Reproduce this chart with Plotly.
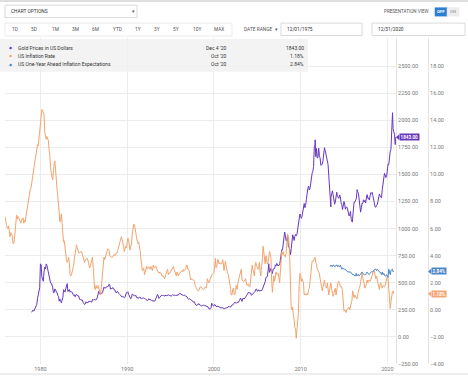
import plotly.graph_objects as go
import pandas as pd

# ---------------- data ----------------
gold_start = "1979-01-01"
gold_monthly = [
    227, 245, 242, 239, 257, 279, 295, 301, 355, 392, 392, 455,   # 1979
    675, 665, 554, 517, 514, 600, 645, 627, 674, 661, 623, 595,   # 1980
    558, 500, 499, 496, 480, 461, 409, 410, 443, 437, 413, 410,   # 1981
    384, 374, 330, 350, 334, 315, 339, 364, 436, 422, 414, 444,   # 1982
    481, 492, 420, 432, 438, 413, 422, 416, 412, 394, 382, 388,   # 1983
    371, 387, 394, 381, 377, 378, 348, 348, 341, 340, 341, 320,   # 1984
    303, 299, 304, 325, 316, 317, 317, 330, 324, 326, 325, 322,   # 1985
    345, 339, 346, 340, 342, 343, 348, 376, 418, 423, 398, 391,   # 1986
    408, 401, 409, 438, 460, 450, 450, 461, 460, 465, 467, 487,   # 1987
    477, 442, 444, 452, 451, 452, 437, 433, 413, 406, 420, 419,   # 1988
    404, 388, 390, 385, 371, 367, 375, 365, 362, 367, 394, 409,   # 1989
    410, 417, 393, 374, 369, 352, 362, 395, 389, 380, 381, 378,   # 1990
    384, 364, 363, 358, 357, 367, 368, 356, 349, 358, 360, 361,   # 1991
    354, 354, 345, 338, 337, 341, 353, 343, 345, 344, 335, 334,   # 1992
    330, 327, 330, 342, 367, 372, 392, 379, 355, 364, 373, 383,   # 1993
    387, 382, 384, 377, 381, 386, 385, 380, 391, 389, 384, 379,   # 1994
    379, 377, 382, 391, 385, 387, 386, 383, 383, 383, 386, 387,   # 1995
    400, 405, 396, 393, 392, 385, 383, 387, 383, 381, 378, 369,   # 1996
    355, 346, 352, 344, 344, 341, 324, 324, 323, 325, 306, 289,   # 1997
    289, 297, 296, 308, 299, 292, 293, 284, 289, 296, 294, 291,   # 1998
    287, 287, 286, 282, 277, 261, 256, 257, 265, 311, 293, 283,   # 1999
    285, 300, 287, 280, 275, 286, 281, 275, 274, 270, 266, 272,   # 2000
    266, 262, 263, 261, 272, 270, 268, 273, 283, 283, 276, 276,   # 2001
    282, 296, 294, 302, 314, 321, 314, 310, 319, 317, 319, 333,   # 2002
    357, 359, 341, 328, 355, 356, 351, 360, 379, 379, 389, 407,   # 2003
    414, 405, 406, 404, 384, 392, 398, 401, 406, 420, 439, 442,   # 2004
    424, 423, 434, 429, 422, 431, 424, 438, 456, 469, 476, 510,   # 2005
    549, 555, 557, 610, 676, 596, 633, 632, 598, 586, 627, 629,   # 2006
    631, 665, 655, 679, 667, 655, 665, 665, 712, 754, 806, 803,   # 2007
    889, 922, 968, 909, 888, 889, 939, 839, 829, 806, 760, 816,   # 2008
    858, 943, 924, 890, 928, 946, 934, 949, 996, 1043, 1127, 1135,  # 2009
    1118, 1095, 1113, 1148, 1205, 1232, 1193, 1215, 1271, 1343, 1370, 1392,  # 2010
    1356, 1372, 1424, 1474, 1512, 1529, 1573, 1756, 1772, 1665, 1739, 1652,  # 2011
    1656, 1743, 1675, 1650, 1585, 1596, 1594, 1630, 1744, 1747, 1721, 1688,  # 2012
    1670, 1627, 1593, 1487, 1414, 1343, 1286, 1347, 1349, 1316, 1275, 1225,  # 2013
    1244, 1300, 1336, 1299, 1287, 1279, 1311, 1296, 1239, 1222, 1176, 1202,  # 2014
    1251, 1227, 1179, 1198, 1199, 1181, 1128, 1117, 1125, 1159, 1086, 1068,  # 2015
    1097, 1200, 1246, 1243, 1260, 1276, 1337, 1341, 1326, 1267, 1238, 1152,  # 2016
    1192, 1234, 1231, 1266, 1246, 1260, 1236, 1283, 1314, 1280, 1283, 1265,  # 2017
    1331, 1331, 1325, 1335, 1304, 1281, 1238, 1202, 1198, 1215, 1220, 1250,  # 2018
    1291, 1320, 1300, 1286, 1284, 1359, 1413, 1500, 1510, 1495, 1471, 1480,  # 2019
    1560, 1597, 1591, 1683, 1716, 1732, 1847, 1968, 1921, 1900, 1866,        # 2020
]
gold_extra_dates = ["2011-09-06", "2013-06-28", "2015-12-17", "2016-07-06",
                    "2020-08-06", "2020-11-30", "2020-12-04"]
gold_extra_values = [1820, 1200, 1060, 1360, 2070, 1776, 1843]

infl_start = "1975-12-01"
infl_monthly = [
    6.9,                                                              # 1975
    6.7, 6.3, 6.1, 6.0, 6.2, 5.9, 5.4, 5.7, 5.5, 5.5, 4.9, 4.9,       # 1976
    5.2, 6.0, 6.4, 7.0, 6.7, 6.9, 6.8, 6.6, 6.6, 6.4, 6.7, 6.7,       # 1977
    6.8, 6.4, 6.6, 6.5, 6.9, 7.4, 7.7, 7.9, 8.3, 8.9, 8.9, 9.0,       # 1978
    9.3, 9.9, 10.1, 10.5, 10.9, 10.9, 11.3, 11.8, 12.2, 12.1, 12.6, 13.3,  # 1979
    13.9, 14.2, 14.8, 14.7, 14.4, 14.4, 13.1, 12.9, 12.6, 12.8, 12.6, 12.5,  # 1980
    11.8, 11.4, 10.5, 10.0, 9.8, 9.6, 10.8, 10.8, 11.0, 10.1, 9.6, 8.9,  # 1981
    8.4, 7.6, 6.8, 6.5, 6.7, 7.1, 6.4, 5.9, 5.0, 5.1, 4.6, 3.8,       # 1982
    3.7, 3.5, 3.6, 3.9, 3.5, 2.6, 2.5, 2.6, 2.9, 2.9, 3.3, 3.8,       # 1983
    4.2, 4.6, 4.8, 4.6, 4.2, 4.2, 4.2, 4.3, 4.3, 4.3, 4.1, 3.9,       # 1984
    3.5, 3.5, 3.7, 3.7, 3.8, 3.8, 3.6, 3.3, 3.1, 3.2, 3.5, 3.8,       # 1985
    3.9, 3.1, 2.2, 1.6, 1.5, 1.8, 1.6, 1.6, 1.8, 1.5, 1.3, 1.1,       # 1986
    1.5, 2.1, 3.0, 3.8, 3.9, 3.7, 3.9, 4.3, 4.4, 4.5, 4.5, 4.4,       # 1987
    4.0, 3.9, 3.9, 3.9, 3.9, 4.0, 4.1, 4.0, 4.2, 4.2, 4.2, 4.4,       # 1988
    4.7, 4.8, 5.0, 5.1, 5.4, 5.2, 5.0, 4.7, 4.3, 4.5, 4.7, 4.6,       # 1989
    5.2, 5.3, 5.2, 4.7, 4.4, 4.7, 4.8, 5.6, 6.2, 6.3, 6.3, 6.1,       # 1990
    5.7, 5.3, 4.9, 4.9, 5.0, 4.7, 4.4, 3.8, 3.4, 2.9, 3.0, 3.1,       # 1991
    2.6, 2.8, 3.2, 3.2, 3.0, 3.1, 3.2, 3.1, 3.0, 3.2, 3.0, 2.9,       # 1992
    3.3, 3.2, 3.1, 3.2, 3.2, 3.0, 2.8, 2.8, 2.7, 2.8, 2.7, 2.7,       # 1993
    2.5, 2.5, 2.5, 2.4, 2.3, 2.5, 2.8, 2.9, 3.0, 2.6, 2.7, 2.7,       # 1994
    2.8, 2.9, 2.9, 3.1, 3.2, 3.0, 2.8, 2.6, 2.5, 2.8, 2.6, 2.5,       # 1995
    2.7, 2.7, 2.8, 2.9, 2.9, 2.8, 3.0, 2.9, 3.0, 3.0, 3.3, 3.3,       # 1996
    3.0, 3.0, 2.8, 2.5, 2.2, 2.3, 2.2, 2.2, 2.2, 2.1, 1.8, 1.7,       # 1997
    1.6, 1.4, 1.4, 1.4, 1.7, 1.7, 1.7, 1.6, 1.5, 1.5, 1.5, 1.6,       # 1998
    1.7, 1.6, 1.7, 2.3, 2.1, 2.0, 2.1, 2.3, 2.6, 2.6, 2.6, 2.7,       # 1999
    2.7, 3.2, 3.8, 3.1, 3.2, 3.7, 3.7, 3.4, 3.5, 3.4, 3.4, 3.4,       # 2000
    3.7, 3.5, 2.9, 3.3, 3.6, 3.2, 2.7, 2.7, 2.6, 2.1, 1.9, 1.6,       # 2001
    1.1, 1.1, 1.5, 1.6, 1.2, 1.1, 1.5, 1.8, 1.5, 2.0, 2.2, 2.4,       # 2002
    2.6, 3.0, 3.0, 2.2, 2.1, 2.1, 2.1, 2.2, 2.3, 2.0, 1.8, 1.9,       # 2003
    1.9, 1.7, 1.7, 2.3, 3.1, 3.3, 3.0, 2.7, 2.5, 3.2, 3.5, 3.3,       # 2004
    3.0, 3.0, 3.1, 3.5, 2.8, 2.5, 3.2, 3.6, 4.7, 4.3, 3.5, 3.4,       # 2005
    4.0, 3.6, 3.4, 3.5, 4.2, 4.3, 4.1, 3.8, 2.1, 1.3, 2.0, 2.5,       # 2006
    2.1, 2.4, 2.8, 2.6, 2.7, 2.7, 2.4, 2.0, 2.8, 3.5, 4.3, 4.1,       # 2007
    4.3, 4.0, 4.0, 3.9, 4.2, 5.0, 5.6, 5.4, 4.9, 3.7, 1.1, 0.1,       # 2008
    0.0, 0.2, -0.4, -0.7, -1.3, -1.4, -2.1, -1.5, -1.3, -0.2, 1.8, 2.7,  # 2009
    2.6, 2.1, 2.3, 2.2, 2.0, 1.1, 1.2, 1.1, 1.1, 1.2, 1.1, 1.5,       # 2010
    1.6, 2.1, 2.7, 3.2, 3.6, 3.6, 3.6, 3.8, 3.9, 3.5, 3.4, 3.0,       # 2011
    2.9, 2.9, 2.7, 2.3, 1.7, 1.7, 1.4, 1.7, 2.0, 2.2, 1.8, 1.7,       # 2012
    1.6, 2.0, 1.5, 1.1, 1.4, 1.8, 2.0, 1.5, 1.2, 1.0, 1.2, 1.5,       # 2013
    1.6, 1.1, 1.5, 2.0, 2.1, 2.1, 2.0, 1.7, 1.7, 1.7, 1.3, 0.8,       # 2014
    -0.1, 0.0, -0.1, -0.2, 0.0, 0.1, 0.2, 0.2, 0.0, 0.2, 0.5, 0.7,    # 2015
    1.4, 1.0, 0.9, 1.1, 1.0, 1.0, 0.8, 1.1, 1.5, 1.6, 1.7, 2.1,       # 2016
    2.5, 2.7, 2.4, 2.2, 1.9, 1.6, 1.7, 1.9, 2.2, 2.0, 2.2, 2.1,       # 2017
    2.1, 2.2, 2.4, 2.5, 2.8, 2.9, 2.9, 2.7, 2.3, 2.5, 2.2, 1.9,       # 2018
    1.6, 1.5, 1.9, 2.0, 1.8, 1.6, 1.8, 1.7, 1.7, 1.8, 2.1, 2.3,       # 2019
    2.5, 2.3, 1.5, 0.3, 0.1, 0.6, 1.0, 1.3, 1.4, 1.18,                # 2020
]

exp_start = "2013-06-01"
exp_monthly = [
    3.3, 3.2, 3.3, 3.2, 3.3, 3.3, 3.2,                                # 2013
    3.2, 3.3, 3.3, 3.2, 3.3, 3.2, 3.2, 3.3, 3.2, 3.0, 3.1, 3.0,       # 2014
    3.0, 3.0, 3.0, 2.9, 2.9, 2.8, 2.8, 2.8, 2.8, 2.8, 2.7, 2.7,       # 2015
    2.6, 2.6, 2.6, 2.5, 2.5, 2.7, 2.5, 2.6, 2.6, 2.5, 2.6, 2.6,       # 2016
    2.7, 2.8, 2.7, 2.6, 2.6, 2.6, 2.6, 2.7, 2.8, 2.7, 2.6, 2.6,       # 2017
    2.7, 2.8, 2.8, 2.8, 2.8, 2.9, 3.0, 3.0, 3.0, 2.9, 3.0, 2.9,       # 2018
    2.9, 2.8, 2.8, 2.6, 2.6, 2.8, 2.6, 2.7, 2.5, 2.5, 2.5, 2.6,       # 2019
    2.5, 2.4, 3.0, 2.6, 2.6, 2.9, 3.0, 3.0, 2.8, 2.84,                # 2020
]

x_tick_years = ["1980", "1990", "2000", "2010", "2020"]
gold_ticks = [-250, 0, 250, 500, 750, 1000, 1250, 1500, 1750, 2000, 2250, 2500]
pct_ticks = [-4, -2, 0, 2, 4, 6, 8, 10, 12, 14, 16, 18]
range_buttons = ["1D", "5D", "1M", "3M", "6M", "YTD", "1Y", "3Y", "5Y", "10Y", "MAX"]
legend_names = ["Gold Prices in US Dollars", "US Inflation Rate",
                "US One-Year Ahead Inflation Expectations"]
legend_dates = ["Dec 4 '20", "Oct '20", "Oct '20"]
legend_values = ["1843.00", "1.18%", "2.84%"]

# ---------------- build series ----------------
gold = pd.Series(gold_monthly, index=pd.date_range(gold_start, periods=len(gold_monthly), freq="MS"))
gold = pd.concat([gold, pd.Series(gold_extra_values, index=pd.to_datetime(gold_extra_dates))]).sort_index()
infl = pd.Series(infl_monthly, index=pd.date_range(infl_start, periods=len(infl_monthly), freq="MS"))
expc = pd.Series(exp_monthly, index=pd.date_range(exp_start, periods=len(exp_monthly), freq="MS"))

PURPLE = "#6538bd"
ORANGE = "#f3a46e"
BLUE = "#4f86c6"
FONT = "Roboto"

W, H = 468, 377
L, R, T, B = 5, 22, 38, 11
PW, PH = W - L - R, H - T - B
def px(x):
    return (x - L) / PW
def py(y):
    return (H - B - y) / PH

GOLD_MIN, GOLD_MAX = -250, 2760
PCT_MIN, PCT_MAX = (GOLD_MIN - 250) / 125, (GOLD_MAX - 250) / 125

fig = go.Figure()
fig.add_trace(go.Scatter(x=gold.index, y=gold.values, mode="lines",
                         line=dict(color=PURPLE, width=1), yaxis="y", name=legend_names[0]))
fig.add_trace(go.Scatter(x=infl.index, y=infl.values, mode="lines",
                         line=dict(color=ORANGE, width=1), yaxis="y2", name=legend_names[1]))
fig.add_trace(go.Scatter(x=expc.index, y=expc.values, mode="lines",
                         line=dict(color=BLUE, width=1), yaxis="y2", name=legend_names[2]))

tickfont = dict(family=FONT, size=5.5, color="#777777")
fig.update_layout(
    width=W, height=H, margin=dict(l=L, r=R, t=T, b=B),
    paper_bgcolor="white", plot_bgcolor="white", showlegend=False,
    font=dict(family=FONT),
    xaxis=dict(type="date", domain=[0, px(396)], range=["1975-12-01", "2020-12-31"],
               tickvals=[y + "-01-01" for y in x_tick_years], ticktext=x_tick_years,
               showgrid=True, gridcolor="#ececec", gridwidth=1, showline=False,
               zeroline=False, tickfont=tickfont, ticks=""),
    yaxis=dict(side="right", range=[GOLD_MIN, GOLD_MAX], tickvals=gold_ticks,
               tickformat=".2f", showgrid=True, gridcolor="#ececec", gridwidth=1,
               showline=True, linecolor="#e4e4e4", zeroline=False, tickfont=tickfont, ticks=""),
    yaxis2=dict(side="right", overlaying="y", anchor="free", position=px(428),
                range=[PCT_MIN, PCT_MAX], tickvals=pct_ticks, tickformat=".2f", ticksuffix="%",
                showgrid=False, showline=True, linecolor="#e4e4e4", zeroline=False,
                tickfont=tickfont, ticks=""),
)

shapes = []
ann = []
def rect(x0, y0, x1, y1, fill="white", line="#d0d0d0", lw=0.8, layer="above"):
    shapes.append(dict(type="rect", xref="paper", yref="paper", x0=px(x0), x1=px(x1),
                       y0=py(y1), y1=py(y0), fillcolor=fill,
                       line=dict(color=line, width=lw), layer=layer))
def text(x, y, s, size=5, color="#444444", anchor="left", bold=False):
    ann.append(dict(xref="paper", yref="paper", x=px(x), y=py(y), text=("<b>%s</b>" % s) if bold else s,
                    showarrow=False, xanchor=anchor, yanchor="middle",
                    font=dict(family=FONT, size=size, color=color)))

# top strip
rect(0, 0, 468, 1.5, fill="#d5d5d5", line="rgba(0,0,0,0)", lw=0)
# chart options dropdown
rect(5, 5, 137, 17.5)
text(9, 11.3, "CHART OPTIONS", size=4.8, color="#333333")
text(133, 11.3, "▾", size=5, color="#555555", anchor="center")
# range buttons
rect(5, 23, 232, 36, line="#e6e6e6")
for lab, xx in zip(range_buttons, [15, 34, 55, 75, 95, 117, 138, 157, 176, 197, 219]):
    text(xx, 29.5, lab, size=4.8, color="#555555", anchor="center")
# presentation view
text(431, 11.5, "PRESENTATION VIEW", size=4.6, color="#555555", anchor="right")
rect(435, 7.5, 447, 16, fill="#2d7fd3", line="#2d7fd3", lw=0.5)
rect(447, 7.5, 459, 16, fill="#eeeeee", line="#e2e2e2", lw=0.5)
text(441, 11.8, "OFF", size=4.2, color="white", anchor="center", bold=True)
text(453, 11.8, "ON", size=4.2, color="#8a8a8a", anchor="center")
# date range
text(242, 29, "DATE RANGE  ▾", size=4.8, color="#555555")
rect(281, 23, 362, 35.5)
text(285, 29.3, "12/01/1975", size=4.8, color="#333333")
rect(372, 23, 465, 35.5)
text(376, 29.3, "12/31/2020", size=4.8, color="#333333")
# legend panel
rect(0, 39, 308, 72, fill="rgba(240,240,240,0.80)", line="rgba(0,0,0,0)", lw=0)
for i, (nm, dt, vl, col) in enumerate(zip(legend_names, legend_dates, legend_values,
                                         [PURPLE, ORANGE, BLUE])):
    yy = 47.7 + i * 8.3
    text(11, yy, "◆", size=4, color=col, anchor="center")
    text(15.5, yy, nm, size=5, color="#333333")
    text(229, yy, dt, size=5, color="#333333", anchor="right")
    text(306, yy, vl, size=5, color="#333333", anchor="right")
# bottom strip
rect(0, 375, 468, 377, fill="#eeeeee", line="rgba(0,0,0,0)", lw=0, layer="below")

# last-value tags
def tag(xleft, yref, yval, s, col):
    ann.append(dict(xref="paper", yref=yref, x=px(xleft + 1.5), y=yval, text="<b>%s</b>" % s,
                    showarrow=False, xanchor="left", yanchor="middle", bgcolor=col,
                    borderpad=0.6, font=dict(family=FONT, size=4.6, color="white")))
tag(397.5, "y", 1843, "1843.00", PURPLE)
tag(429.5, "y2", 2.84, "2.84%", BLUE)
tag(429.5, "y2", 1.18, "1.18%", "#f5a677")
for xl, yr, yv, col in [(397.5, "y", 1843, PURPLE), (429.5, "y2", 2.84, BLUE),
                        (429.5, "y2", 1.18, "#f5a677")]:
    span = 25 if yr == "y" else 25 / 125
    shapes.append(dict(type="path", xref="paper", yref=yr,
                       path="M %f %f L %f %f L %f %f Z" % (px(xl - 1.5), yv, px(xl + 1.6), yv + span,
                                                            px(xl + 1.6), yv - span),
                       fillcolor=col, line=dict(width=0), layer="above"))

fig.update_layout(shapes=shapes, annotations=ann)
fig.write_html("out.html", config={"displayModeBar": False},
               post_script="document.body.style.margin='0';document.body.style.padding='0';")
